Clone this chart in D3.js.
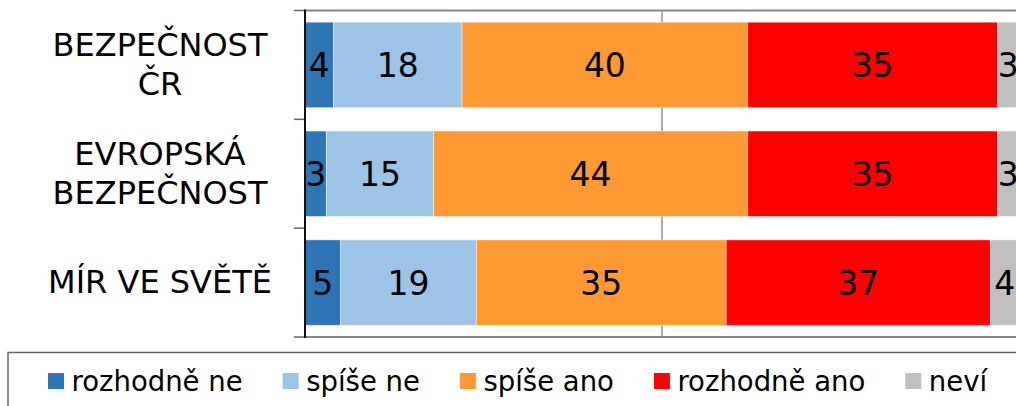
<!DOCTYPE html>
<html>
<head>
<meta charset="utf-8">
<script src="https://cdn.jsdelivr.net/npm/d3@7"></script>
<style>
  html, body { margin: 0; padding: 0; background: #fff; overflow: hidden; }
  svg { display: block; font-family: "DejaVu Sans", Verdana, sans-serif; }
</style>
</head>
<body>
<svg id="chart" width="1016" height="406"></svg>
<script>
// ---- data ----
const categories = ["BEZPEČNOST ČR", "EVROPSKÁ BEZPEČNOST", "MÍR VE SVĚTĚ"];
const categoryLines = [["BEZPEČNOST", "ČR"], ["EVROPSKÁ", "BEZPEČNOST"], ["MÍR VE SVĚTĚ"]];
const seriesNames = ["rozhodně ne", "spíše ne", "spíše ano", "rozhodně ano", "neví"];
const rozhodneNe  = [4, 3, 5];
const spiseNe     = [18, 15, 19];
const spiseAno    = [40, 44, 35];
const rozhodneAno = [35, 35, 37];
const nevi        = [3, 3, 4];
const xTicks = [0, 50, 100];
const seriesColors = ["#2E75B6", "#9DC3E6", "#FF9933", "#FF0000", "#C0C0C0"];

// ---- build table ----
const seriesValues = [rozhodneNe, spiseNe, spiseAno, rozhodneAno, nevi];
const table = categories.map((c, i) => {
  const row = { cat: c };
  seriesNames.forEach((s, j) => row[s] = seriesValues[j][i]);
  return row;
});
const stack = d3.stack().keys(seriesNames)(table);

const svg = d3.select("#chart");
const W = 1016, H = 406;
const plot = { left: 305, top: 10.5, bottom: 337 };

const x = d3.scaleLinear().domain([0, 100]).range([plot.left, 1019]);
const y = d3.scaleBand().domain(categories).range([plot.top, plot.bottom])
  .paddingInner(0.215).paddingOuter(0.1075);
const color = d3.scaleOrdinal().domain(seriesNames).range(seriesColors);

// gridlines
svg.append("g").selectAll("line").data(xTicks.filter(t => t > 0)).join("line")
  .attr("x1", d => x(d)).attr("x2", d => x(d))
  .attr("y1", plot.top).attr("y2", plot.bottom)
  .attr("stroke", "#777").attr("stroke-width", 1.2);

// top / bottom borders
svg.append("line").attr("x1", plot.left).attr("x2", W + 5)
  .attr("y1", plot.top).attr("y2", plot.top)
  .attr("stroke", "#888").attr("stroke-width", 2);
svg.append("line").attr("x1", plot.left).attr("x2", W + 5)
  .attr("y1", plot.bottom).attr("y2", plot.bottom)
  .attr("stroke", "#888").attr("stroke-width", 2);

// bars
const layers = svg.append("g").selectAll("g").data(stack).join("g")
  .attr("fill", d => color(d.key));
layers.selectAll("rect").data(d => d).join("rect")
  .attr("x", d => x(d[0]))
  .attr("y", d => y(d.data.cat))
  .attr("width", d => x(d[1]) - x(d[0]))
  .attr("height", y.bandwidth())
  .attr("stroke", "rgba(255,255,255,0.45)")
  .attr("stroke-width", 1);

// value labels
layers.selectAll("text").data(d => d).join("text")
  .attr("x", d => (x(d[0]) + x(d[1])) / 2)
  .attr("y", d => y(d.data.cat) + y.bandwidth() / 2 + 12)
  .attr("text-anchor", "middle")
  .attr("font-size", 33)
  .attr("fill", "#000")
  .text(d => d[1] - d[0]);

// left axis with ticks at band boundaries
const step = y.step();
const boundaries = d3.range(categories.length + 1).map(i => plot.top + i * (plot.bottom - plot.top) / categories.length);
svg.append("g").selectAll("line").data(boundaries).join("line")
  .attr("x1", 294).attr("x2", plot.left)
  .attr("y1", d => d).attr("y2", d => d)
  .attr("stroke", "#666").attr("stroke-width", 1.5);
svg.append("line").attr("x1", plot.left).attr("x2", plot.left)
  .attr("y1", plot.top - 1).attr("y2", plot.bottom + 1)
  .attr("stroke", "#111").attr("stroke-width", 2);

// category labels
const lineH = 39;
svg.append("g").selectAll("text").data(categories).join("text")
  .attr("text-anchor", "middle")
  .attr("font-size", 32)
  .attr("fill", "#000")
  .each(function(c, i) {
    const lines = categoryLines[i];
    const cy = y(c) + y.bandwidth() / 2;
    const t = d3.select(this);
    lines.forEach((ln, k) => {
      t.append("tspan")
        .attr("x", 160)
        .attr("y", cy + (k - (lines.length - 1) / 2) * lineH + 10.5)
        .text(ln);
    });
  });

// legend
svg.append("rect").attr("x", 8).attr("y", 352.5)
  .attr("width", 1100).attr("height", 100)
  .attr("fill", "#fff").attr("stroke", "#666").attr("stroke-width", 1.5);
let lx = 48;
const legend = svg.append("g");
seriesNames.forEach((s, i) => {
  legend.append("rect").attr("x", lx).attr("y", 373).attr("width", 16).attr("height", 16)
    .attr("fill", color(s));
  const t = legend.append("text").attr("x", lx + 23.5).attr("y", 390.5)
    .attr("font-size", 27.5).attr("fill", "#000").text(s);
  lx = lx + 23.5 + t.node().getComputedTextLength() + 40;
});
</script>
</body>
</html>
